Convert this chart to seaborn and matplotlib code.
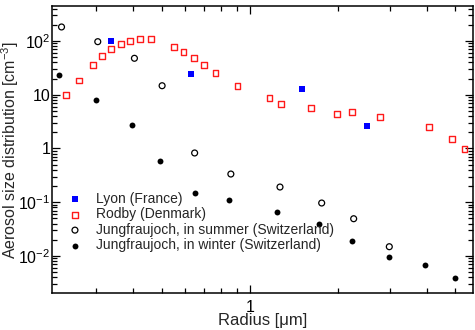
import matplotlib
matplotlib.use("Agg")
import matplotlib.pyplot as plt
import matplotlib.ticker as mticker
import seaborn as sns

# radius [um] / concentration [cm^-3]
lyon_r = [0.336, 0.631, 1.51, 2.50]
lyon_n = [101, 24.6, 13.0, 2.66]

rodby_r = [0.236, 0.261, 0.292, 0.313, 0.337, 0.364, 0.390, 0.422, 0.459, 0.552,
           0.594, 0.646, 0.697, 0.764, 0.908, 1.167, 1.278, 1.614, 1.980, 2.233,
           2.775, 4.076, 4.895, 5.38]
rodby_n = [9.9, 18.3, 35.8, 52.6, 70.2, 86.8, 100, 107.6, 107.6, 78.3,
           62.4, 48.3, 36.2, 25.7, 14.4, 8.70, 6.64, 5.67, 4.33, 4.71,
           3.91, 2.51, 1.50, 0.99]

summer_r = [0.228, 0.303, 0.404, 0.502, 0.648, 0.861, 1.266, 1.756, 2.257, 2.985]
summer_n = [182, 97.0, 47.6, 14.7, 0.825, 0.335, 0.192, 0.0968, 0.0494, 0.0149]

winter_r = [0.223, 0.298, 0.395, 0.495, 0.648, 0.851, 1.238, 1.726, 2.233, 2.985,
            3.94, 4.99]
winter_n = [23.0, 8.09, 2.74, 0.573, 0.147, 0.1125, 0.0673, 0.0389, 0.0190,
            0.00957, 0.0068, 0.0039]

ytick_vals = [1e-2, 1e-1, 1, 10, 100]
ytick_labels = [r"$10^{-2}$", r"$10^{-1}$", "1", "10", r"$10^{2}$"]

sns.set_style("ticks")
plt.rcParams["font.family"] = ["Liberation Sans", "DejaVu Sans"]
plt.rcParams["mathtext.fontset"] = "custom"
plt.rcParams["mathtext.rm"] = "Liberation Sans"
plt.rcParams["mathtext.it"] = "Liberation Sans:italic"

fig = plt.figure(figsize=(4.75, 3.3), dpi=100)
ax = fig.add_axes([0.110, 0.111, 0.8864, 0.871])

sns.scatterplot(x=lyon_r, y=lyon_n, marker="s", color="#0000ff", s=24,
                linewidth=0, label="Lyon (France)", ax=ax, zorder=3)
sns.scatterplot(x=rodby_r, y=rodby_n, marker="s", facecolor="none",
                edgecolor="#ff1a1a", linewidth=1.0, s=17,
                label="Rodby (Denmark)", ax=ax, zorder=3)
sns.scatterplot(x=summer_r, y=summer_n, marker="o", facecolor="none",
                edgecolor="black", linewidth=0.9, s=18,
                label="Jungfraujoch, in summer (Switzerland)", ax=ax, zorder=3)
sns.scatterplot(x=winter_r, y=winter_n, marker="o", color="black", linewidth=0,
                s=18, label="Jungfraujoch, in winter (Switzerland)", ax=ax, zorder=3)

ax.set_xscale("log")
ax.set_yscale("log")
ax.set_xlim(0.212, 5.77)
ax.set_ylim(0.00202, 448)

ax.xaxis.set_major_locator(mticker.FixedLocator([1]))
ax.xaxis.set_major_formatter(mticker.FixedFormatter(["1"]))
ax.xaxis.set_minor_locator(mticker.LogLocator(base=10, subs=range(2, 10), numticks=20))
ax.xaxis.set_minor_formatter(mticker.NullFormatter())
ax.yaxis.set_major_locator(mticker.FixedLocator(ytick_vals))
ax.yaxis.set_major_formatter(mticker.FixedFormatter(ytick_labels))
ax.yaxis.set_minor_locator(mticker.LogLocator(base=10, subs=range(2, 10), numticks=20))
ax.yaxis.set_minor_formatter(mticker.NullFormatter())

ax.tick_params(which="both", direction="in", top=True, right=True,
               colors="black", labelsize=11.5, width=0.9)
ax.tick_params(which="major", length=6)
ax.tick_params(which="minor", length=3.5)
ax.tick_params(axis="x", which="major", pad=5)
ax.tick_params(axis="y", which="major", pad=1.5)
for sp in ax.spines.values():
    sp.set_color("black")
    sp.set_linewidth(1.1)

ax.set_xlabel("Radius [\u03bcm]", fontsize=12, labelpad=-1.5)
ax.set_ylabel(r"Aerosol size distribution [cm$^{-3}$]", fontsize=11.5)
ax.yaxis.set_label_coords(-0.074, 0.5)

ax.legend(loc="upper left", bbox_to_anchor=(0.016, 0.372), frameon=False,
          fontsize=10, borderaxespad=0, handlelength=1.5, handletextpad=0.8,
          labelspacing=0.1)

fig.savefig("out.png", dpi=100)
